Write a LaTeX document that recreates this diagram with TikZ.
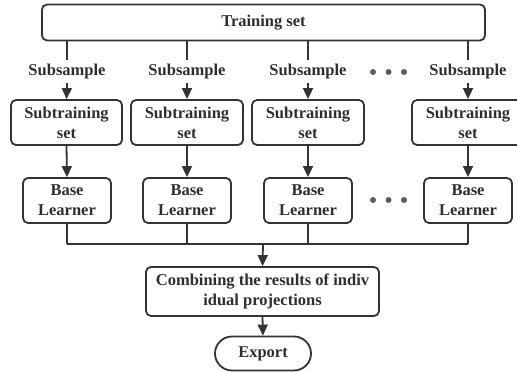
\documentclass[tikz,border=0pt]{standalone}
\usepackage{fontspec}
\setmainfont{Liberation Serif}
\usetikzlibrary{arrows.meta,shapes.misc}
\definecolor{ink}{HTML}{333333}
\definecolor{txt}{HTML}{2E2E2E}
\begin{document}
\begin{tikzpicture}[x=1pt,y=-1pt,
  every node/.style={font=\fontsize{16.5}{20}\selectfont\bfseries, text=txt},
  box/.style={draw=ink, line width=1.8pt, rounded corners=5pt, align=center, inner sep=0pt},
  lbl/.style={inner sep=0pt},
  con/.style={draw=ink, line width=1.8pt},
  arr/.style={con, -{Triangle[width=10pt,length=11pt]}},
  dot/.style={fill=ink!80, circle, inner sep=0pt, minimum size=6pt}]
\useasboundingbox (0,0) rectangle (517,372);
% training set
\node[box, minimum width=443pt, minimum height=36pt] (train) at (263.5,22.5) {Training set};
% columns
\foreach \i/\x/\sw/\sx in {1/67/111/66.5, 2/187/112/187, 3/308/112/308, 4/468/112/468}{
  \coordinate (t\i) at (\x,40.5);
  \node[lbl] (sub\i) at (\x,72) {Subsample};
  \node[box, minimum width=\sw pt, minimum height=45pt] (st\i) at (\sx,122.5) {Subtraining\\set};
  \node[box, minimum width=88pt, minimum height=45pt] (bl\i) at (\x,200.5) {Base\\Learner};
  \coordinate (h\i) at (\x,244);
}
\foreach \i in {1,2,3,4}{
  \draw[con] (t\i) -- (sub\i.north |- 0,60);
  \draw[arr] (sub\i.south |- 0,83) -- (st\i.north);
  \draw[arr] (st\i.south) -- (bl\i.north);
  \draw[con] (bl\i.south) -- (h\i);
}
\draw[con] (h1) -- (h4);
\node[box, minimum width=233pt, minimum height=49pt] (comb) at (262.5,291.5) {Combining the results of indiv\\idual projections};
\node[draw=ink, line width=1.8pt, rounded rectangle, minimum width=96pt, minimum height=34pt, inner sep=0pt] (exp) at (263,353.5) {Export};
\coordinate (hc) at (263,244);
\draw[arr] (hc) -- (comb.north);
\draw[arr] (comb.south) -- (exp.north);
% dots
\foreach \y/\n in {72/a,200/b}{
  \node[dot] (d1\n) at (373,\y) {};
  \node[dot] (d2\n) at (388.5,\y) {};
  \node[dot] (d3\n) at (404,\y) {};
}
\end{tikzpicture}
\end{document}
